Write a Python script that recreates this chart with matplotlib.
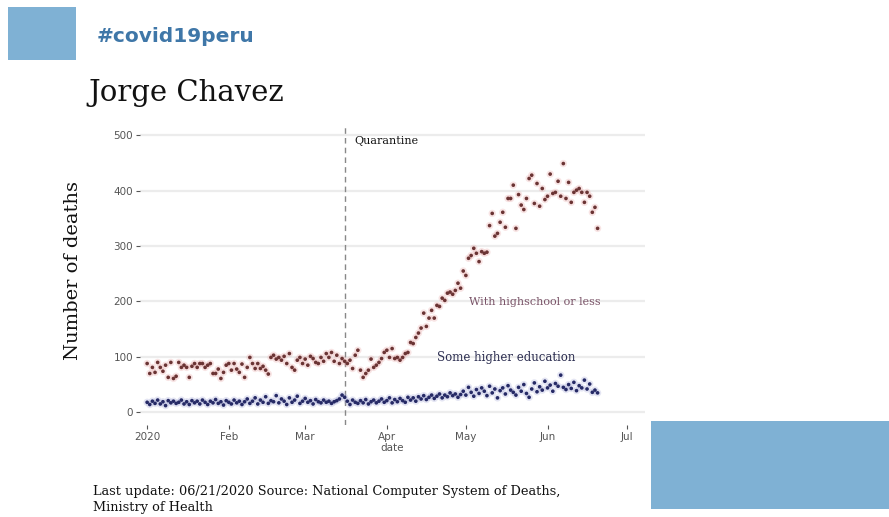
import matplotlib
matplotlib.use("Agg")
import matplotlib.pyplot as plt
from matplotlib.patches import Rectangle
import pandas as pd

dates = pd.date_range("2020-01-01", "2020-06-20", freq="D")

highschool_or_less = [
    88, 70, 81, 72, 90, 81, 74, 85, 63, 90,
    61, 65, 90, 81, 85, 81, 63, 83, 88, 81,
    88, 88, 81, 85, 88, 70, 70, 78, 61, 72,
    85, 88, 76, 88, 78, 72, 87, 63, 81, 99,
    88, 79, 88, 79, 83, 76, 69, 99, 103, 96,
    99, 94, 101, 88, 106, 81, 76, 94, 99, 88,
    96, 85, 101, 97, 90, 88, 99, 92, 106, 99,
    108, 92, 103, 88, 97, 92, 88, 94, 79, 103,
    112, 76, 63, 70, 76, 96, 81, 85, 90, 97,
    108, 112, 99, 115, 97, 99, 94, 99, 106, 108,
    126, 124, 135, 143, 152, 179, 155, 170, 184, 170,
    193, 191, 206, 202, 215, 217, 213, 220, 233, 224,
    255, 247, 278, 283, 296, 287, 272, 290, 287, 289,
    337, 359, 318, 323, 343, 361, 334, 386, 386, 410,
    332, 393, 374, 366, 386, 422, 428, 377, 413, 372,
    404, 384, 390, 430, 395, 397, 417, 390, 449, 386,
    415, 379, 397, 401, 404, 397, 379, 397, 390, 361,
    370, 332,
]

some_higher_education = [
    18, 14, 20, 16, 22, 15, 19, 12, 21, 17,
    20, 16, 18, 22, 15, 19, 14, 21, 17, 20,
    15, 22, 18, 14, 20, 17, 23, 16, 19, 13,
    21, 18, 15, 22, 17, 20, 14, 19, 24, 16,
    20, 26, 15, 22, 18, 28, 16, 21, 19, 30,
    17, 24, 20, 14, 26, 18, 22, 29, 16, 20,
    25, 18, 21, 15, 23, 19, 17, 22, 18, 20,
    16, 19, 21, 24, 31, 27, 20, 14, 22, 18,
    16, 21, 17, 23, 15, 19, 22, 17, 20, 24,
    18, 21, 26, 17, 23, 19, 25, 21, 18, 27,
    22, 26, 20, 28, 24, 30, 23, 27, 31, 25,
    29, 33, 26, 31, 28, 35, 30, 33, 27, 32,
    38, 31, 45, 36, 29, 41, 34, 44, 38, 30,
    47, 35, 42, 26, 39, 44, 33, 48, 40, 36,
    31, 45, 38, 50, 34, 27, 42, 53, 37, 46,
    40, 56, 44, 49, 38, 52, 47, 67, 45, 41,
    50, 43, 54, 39, 48, 44, 58, 42, 51, 36,
    40, 35,
]

y_ticks = [0, 100, 200, 300, 400, 500]
x_tick_dates = ["2020-01-01", "2020-02-01", "2020-03-01", "2020-04-01",
                "2020-05-01", "2020-06-01", "2020-07-01"]
x_tick_labels = ["2020", "Feb", "Mar", "Apr", "May", "Jun", "Jul"]
quarantine_date = "2020-03-16"

W, H = 889, 517
fig = plt.figure(figsize=(W / 100, H / 100), dpi=100)
fig.patch.set_facecolor("white")

def fx(px):
    return px / W

def fy(py):
    return 1 - py / H

# decorative rectangles
box_color = "#7fb1d4"
fig.patches.append(Rectangle((fx(8), fy(60)), fx(76) - fx(8), fy(7) - fy(60),
                             transform=fig.transFigure, facecolor=box_color,
                             edgecolor="none", zorder=0))
fig.patches.append(Rectangle((fx(651), fy(509)), fx(889) - fx(651), fy(421) - fy(509),
                             transform=fig.transFigure, facecolor=box_color,
                             edgecolor="none", zorder=0))

fig.text(fx(97), fy(37), "#covid19peru", fontsize=14.5, fontweight="bold",
         color="#3f77a8", family="DejaVu Sans", va="center", ha="left")
fig.text(fx(88), fy(93), "Jorge Chavez", fontsize=21, color="#111111",
         family="DejaVu Serif", va="center", ha="left")

ax = fig.add_axes([fx(140), fy(425), fx(645) - fx(140), fy(127) - fy(425)])
ax.set_facecolor("white")
for s in ax.spines.values():
    s.set_visible(False)

ax.set_ylim(-23, 515)
ax.set_xlim(pd.Timestamp("2019-12-29 07:00"), pd.Timestamp("2020-07-08"))
ax.set_yticks(y_ticks)
ax.set_yticklabels([str(v) for v in y_ticks])
ax.set_xticks(pd.to_datetime(x_tick_dates))
ax.set_xticklabels(x_tick_labels)
ax.grid(axis="y", color="#ececec", linewidth=1.6)
ax.grid(axis="x", visible=False)
ax.set_axisbelow(True)
ax.tick_params(axis="both", colors="#555555", labelsize=7.5, length=3, width=0.8)
ax.tick_params(axis="x", pad=2)
ax.tick_params(axis="y", pad=2)

ax.axvline(pd.Timestamp(quarantine_date), color="#888888", linestyle=(0, (4, 3)),
           linewidth=1.0, zorder=1)

# halos
ax.scatter(dates, highschool_or_less, s=28, color="#e8a8a8", alpha=0.3,
           edgecolors="none", zorder=2)
ax.scatter(dates, some_higher_education, s=28, color="#a8acd8", alpha=0.3,
           edgecolors="none", zorder=2)
ax.scatter(dates, highschool_or_less, s=7, color="#6b3434", edgecolors="none", zorder=3)
ax.scatter(dates, some_higher_education, s=7, color="#262a66", edgecolors="none", zorder=3)

ax.text(pd.Timestamp("2020-03-19 12:00"), 489, "Quarantine", fontsize=8,
        family="DejaVu Serif", color="#111111", va="center", ha="left")
ax.text(pd.Timestamp("2020-05-02"), 199, "With highschool or less", fontsize=8,
        family="DejaVu Serif", color="#7a5468", va="center", ha="left")
ax.text(pd.Timestamp("2020-04-20"), 98, "Some higher education", fontsize=8.5,
        family="DejaVu Serif", color="#2b2d50", va="center", ha="left")

ax.set_xlabel("date", fontsize=7.5, color="#555555", labelpad=1)
fig.text(fx(73), fy(270), "Number of deaths", fontsize=14, family="DejaVu Serif",
         rotation=90, va="center", ha="center", color="#111111")

fig.text(fx(93), fy(492), "Last update: 06/21/2020 Source: National Computer System of Deaths,",
         fontsize=9.3, family="DejaVu Serif", color="#111111", va="center", ha="left")
fig.text(fx(93), fy(508), "Ministry of Health",
         fontsize=9.3, family="DejaVu Serif", color="#111111", va="center", ha="left")

fig.savefig("out.png", dpi=100, facecolor="white")
